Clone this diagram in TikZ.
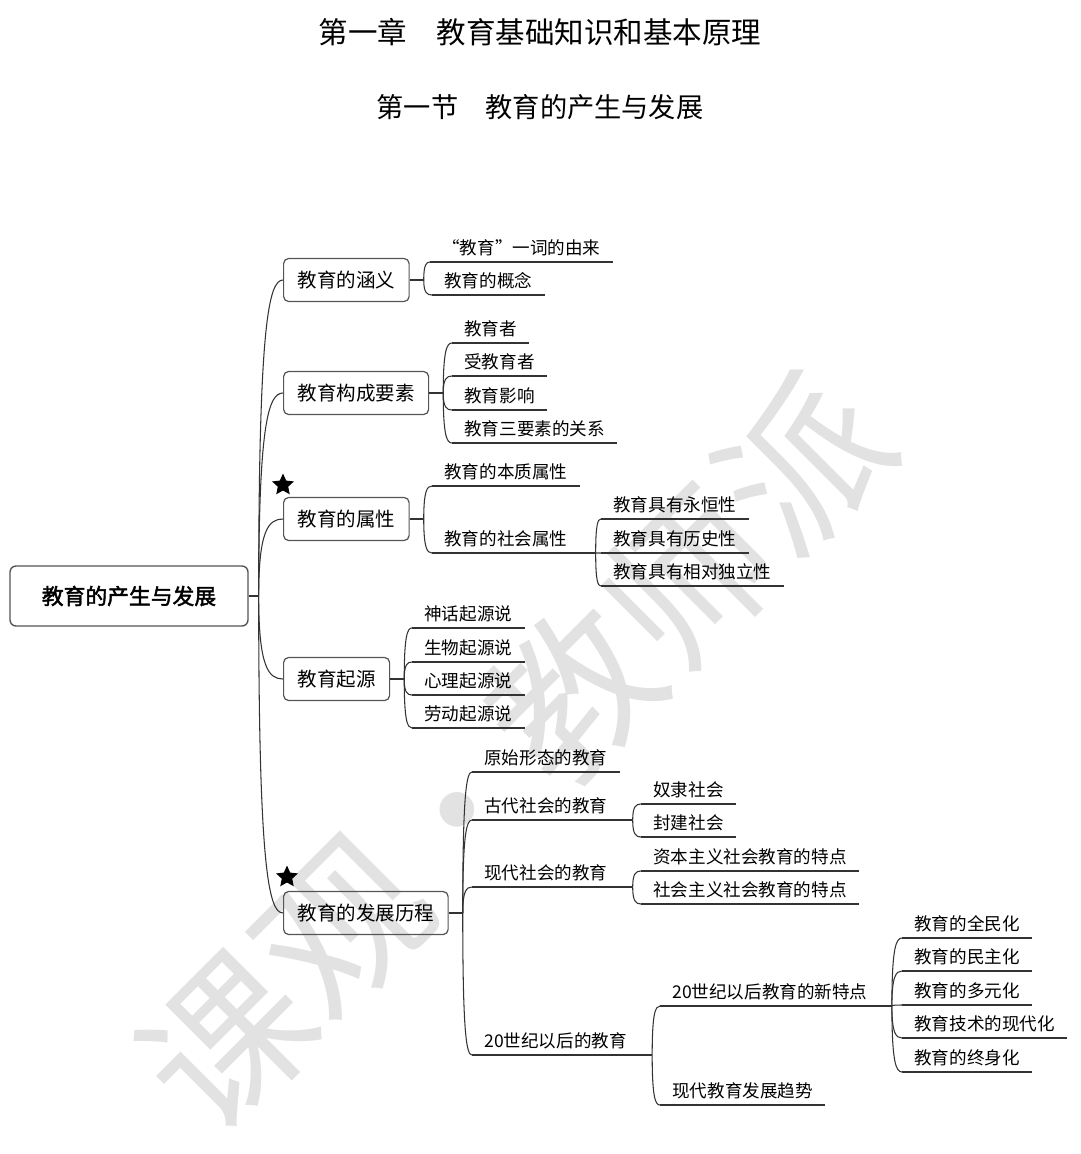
\documentclass[tikz,border=0pt]{standalone}
\usepackage{fontspec}
\setmainfont{Noto Sans CJK SC}[AutoFakeBold=2]
\usetikzlibrary{shapes.geometric, positioning, calc}

\definecolor{lineGray}{HTML}{333333}
\definecolor{boxGray}{HTML}{555555}
\definecolor{markGray}{HTML}{E2E2E2}

\newcommand{\Branch}[2]{
    \draw[link] (#1) .. controls ($(#1)!0.85!(#1|-#2)$) and ($(#2)!0.6!(#1|-#2)$) .. (#2);
}

\tikzset{
    % Connectors
    link/.style={draw=lineGray, line width=0.6pt},
    % Topics
    centralTopic/.style={draw=boxGray, line width=0.8pt, rounded corners=0.12cm,
        minimum width=4.76cm, minimum height=1.2cm, font=\fontsize{12.4pt}{15pt}\selectfont\bfseries},
    mainTopic/.style={draw=boxGray, line width=0.7pt, rounded corners=0.1cm, anchor=west,
        minimum height=0.86cm, inner xsep=0.28cm, font=\fontsize{11.1pt}{13pt}\selectfont},
    subTopic/.style={anchor=south west, inner xsep=0.24cm, inner ysep=2.7pt,
        text height=8.8pt, text depth=1.2pt, font=\fontsize{10pt}{12pt}\selectfont},
    starMark/.style={star, star points=5, star point ratio=2.1, fill=black, minimum size=0.46cm, inner sep=0pt},
    % Titles
    titleText/.style={font=\fontsize{16.8pt}{20pt}\selectfont},
    subTitleText/.style={font=\fontsize{15.5pt}{18pt}\selectfont},
    waterMark/.style={text=markGray, rotate=45, font=\fontsize{93pt}{93pt}\selectfont}
}

\begin{document}
\begin{tikzpicture}[x=0.02cm, y=-0.02cm]
    \useasboundingbox (0,0) rectangle (1080,1154);
    \node[waterMark] (wm) at (515,752) {课观·教师派};

    % Titles
    \node[titleText] (t1) at (540,32) {第一章　教育基础知识和基本原理};
    \node[subTitleText] (t2) at (540,107) {第一节　教育的产生与发展};

    % Central topic
    \node[centralTopic] (root) at (129,596) {教育的产生与发展};
    \coordinate (jr) at ($(root.east)+(10,0)$);
    \draw[link] (root.east) -- (jr);

    % Main topics
    \node[mainTopic] (b1) at (283,280) {教育的涵义};
    \node[mainTopic] (b2) at (283,393) {教育构成要素};
    \node[mainTopic] (b3) at (283,519) {教育的属性};
    \node[mainTopic] (b4) at (283,679) {教育起源};
    \node[mainTopic] (b5) at (283,913) {教育的发展历程};
    \node[starMark] (s3) at (283,485) {};
    \node[starMark] (s5) at (287,877) {};
    \foreach \b in {b1,b2,b3,b4,b5} {
        \Branch{jr}{\b.west}
        \coordinate (j\b) at ($(\b.east)+(14,0)$);
        \draw[link] (\b.east) -- (j\b);
    }

    % Meaning
    \node[subTopic] (c11) at (430,262) {“教育”一词的由来};
    \node[subTopic] (c12) at (432,295) {教育的概念};
    \foreach \c in {c11,c12} {\Branch{jb1}{\c.south west}}

    % Elements
    \node[subTopic] (c21) at (452,343) {教育者};
    \node[subTopic] (c22) at (452,376) {受教育者};
    \node[subTopic] (c23) at (452,410) {教育影响};
    \node[subTopic] (c24) at (452,443) {教育三要素的关系};
    \foreach \c in {c21,c22,c23,c24} {\Branch{jb2}{\c.south west}}

    % Attributes
    \node[subTopic] (c31) at (432,486) {教育的本质属性};
    \node[subTopic] (c32) at (432,553) {教育的社会属性};
    \foreach \c in {c31,c32} {\Branch{jb3}{\c.south west}}
    \coordinate (j32) at ($(c32.south east)+(16,0)$);
    \draw[link] (c32.south east) -- (j32);
    \node[subTopic] (c321) at (601,519) {教育具有永恒性};
    \node[subTopic] (c322) at (601,553) {教育具有历史性};
    \node[subTopic] (c323) at (601,586) {教育具有相对独立性};
    \foreach \c in {c321,c322,c323} {\Branch{j32}{\c.south west}}

    % Origin
    \node[subTopic] (c41) at (412,628) {神话起源说};
    \node[subTopic] (c42) at (412,662) {生物起源说};
    \node[subTopic] (c43) at (412,695) {心理起源说};
    \node[subTopic] (c44) at (412,728) {劳动起源说};
    \foreach \c in {c41,c42,c43,c44} {\Branch{jb4}{\c.south west}}

    % History
    \node[subTopic] (c51) at (472,772) {原始形态的教育};
    \node[subTopic] (c52) at (472,820) {古代社会的教育};
    \node[subTopic] (c53) at (472,887) {现代社会的教育};
    \node[subTopic] (c54) at (472,1055) {20世纪以后的教育};
    \foreach \c in {c51,c52,c53,c54} {\Branch{jb5}{\c.south west}}

    \coordinate (j52) at ($(c52.south east)+(13,0)$);
    \draw[link] (c52.south east) -- (j52);
    \node[subTopic] (c521) at (641,804) {奴隶社会};
    \node[subTopic] (c522) at (641,837) {封建社会};
    \foreach \c in {c521,c522} {\Branch{j52}{\c.south west}}

    \coordinate (j53) at ($(c53.south east)+(13,0)$);
    \draw[link] (c53.south east) -- (j53);
    \node[subTopic] (c531) at (641,871) {资本主义社会教育的特点};
    \node[subTopic] (c532) at (641,904) {社会主义社会教育的特点};
    \foreach \c in {c531,c532} {\Branch{j53}{\c.south west}}

    \coordinate (j54) at ($(c54.south east)+(13,0)$);
    \draw[link] (c54.south east) -- (j54);
    \node[subTopic] (c541) at (660,1006) {20世纪以后教育的新特点};
    \node[subTopic] (c542) at (660,1105) {现代教育发展趋势};
    \foreach \c in {c541,c542} {\Branch{j54}{\c.south west}}

    \coordinate (j541) at ($(c541.south east)+(12,0)$);
    \draw[link] (c541.south east) -- (j541);
    \node[subTopic] (c5411) at (902,938) {教育的全民化};
    \node[subTopic] (c5412) at (902,971) {教育的民主化};
    \node[subTopic] (c5413) at (902,1005) {教育的多元化};
    \node[subTopic] (c5414) at (902,1038) {教育技术的现代化};
    \node[subTopic] (c5415) at (902,1072) {教育的终身化};
    \foreach \c in {c5411,c5412,c5413,c5414,c5415} {\Branch{j541}{\c.south west}}

    % Underlines
    \foreach \n in {c11,c12,c21,c22,c23,c24,c31,c32,c321,c322,c323,c41,c42,c43,c44,
        c51,c52,c53,c54,c521,c522,c531,c532,c541,c542,c5411,c5412,c5413,c5414,c5415}
        \draw[link] (\n.south west) -- (\n.south east);
\end{tikzpicture}
\end{document}
